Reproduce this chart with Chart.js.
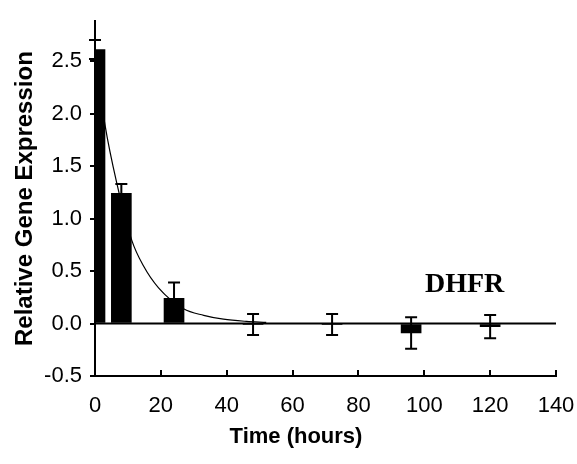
<!DOCTYPE html>
<html>
<head>
<meta charset="utf-8">
<script src="https://cdn.jsdelivr.net/npm/chart.js@4.4.1/dist/chart.umd.min.js"></script>
<style>
  body { margin: 0; background: #fff; }
  #wrap { width: 577px; height: 464px; }
</style>
</head>
<body>
<div id="wrap"><canvas id="dhfr-chart" width="577" height="464"></canvas></div>
<script>
// measured time points (hours) and relative expression
var hours = [0, 8, 24, 48, 72, 96, 120];
var expression = [2.61, 1.24, 0.24, -0.01, -0.01, -0.09, -0.03];
var errors = [0.09, 0.09, 0.15, 0.10, 0.10, 0.15, 0.11];

// decay fit line
var fitHours = [0, 3, 6.6, 11.2, 14.7, 19.3, 26.9, 33, 39, 46, 52];
var fitValues = [2.58, 1.9, 1.34, 0.79, 0.55, 0.34, 0.14, 0.078, 0.041, 0.02, 0.01];

// zero reference line
var zeroHours = [0, 140];
var zeroValues = [0, 0];

var xTicks = [0, 20, 40, 60, 80, 100, 120, 140];
var yTicks = [-0.5, 0.0, 0.5, 1.0, 1.5, 2.0, 2.5];

var geneName = "DHFR";

Chart.defaults.font.family = "'Liberation Sans', Arial, sans-serif";
Chart.defaults.color = "#000";

function pairs(xs, ys) {
    return xs.map(function (x, i) { return { x: x, y: ys[i] }; });
}

// error bars drawn on top of the bars
var errorBars = {
    id: "errorBars",
    afterDatasetsDraw: function (chart) {
        var ctx = chart.ctx;
        var xs = chart.scales.x, ys = chart.scales.y;
        ctx.save();
        ctx.strokeStyle = "#000";
        ctx.lineWidth = 2;
        hours.forEach(function (h, i) {
            var px = xs.getPixelForValue(h);
            var top = ys.getPixelForValue(expression[i] + errors[i]);
            var bot = ys.getPixelForValue(expression[i] - errors[i]);
            ctx.beginPath();
            ctx.moveTo(px, top); ctx.lineTo(px, bot);
            ctx.moveTo(px - 6, top); ctx.lineTo(px + 6, top);
            ctx.moveTo(px - 6, bot); ctx.lineTo(px + 6, bot);
            ctx.stroke();
        });
        ctx.restore();
    }
};

// inward x ticks, gene label and x title
var extras = {
    id: "extras",
    afterDraw: function (chart) {
        var ctx = chart.ctx;
        var xs = chart.scales.x;
        var area = chart.chartArea;
        ctx.save();
        ctx.strokeStyle = "#000";
        ctx.lineWidth = 2;
        ctx.beginPath();
        xTicks.forEach(function (t) {
            if (t === 0) return;
            var px = Math.round(xs.getPixelForValue(t));
            ctx.moveTo(px, area.bottom);
            ctx.lineTo(px, area.bottom - 6);
        });
        ctx.stroke();

        ctx.fillStyle = "#000";
        ctx.font = "bold 28px 'Liberation Serif', 'Times New Roman', serif";
        ctx.textAlign = "left";
        ctx.textBaseline = "alphabetic";
        ctx.fillText(geneName, 425, 292);

        ctx.font = "bold 22px 'Liberation Sans', Arial, sans-serif";
        ctx.textAlign = "center";
        ctx.textBaseline = "middle";
        ctx.fillText("Time (hours)", 296, 437);
        ctx.restore();
    }
};

new Chart(document.getElementById("dhfr-chart"), {
    type: "bar",
    data: {
        datasets: [
            {
                type: "line",
                data: pairs(zeroHours, zeroValues),
                borderColor: "#000",
                borderWidth: 2,
                pointRadius: 0,
                order: 1
            },
            {
                type: "line",
                data: pairs(fitHours, fitValues),
                borderColor: "#000",
                borderWidth: 1.2,
                pointRadius: 0,
                cubicInterpolationMode: "monotone",
                order: 2
            },
            {
                type: "bar",
                data: pairs(hours, expression),
                backgroundColor: "#000",
                borderWidth: 0,
                barThickness: 20,
                clip: 0,
                order: 3
            }
        ]
    },
    options: {
        responsive: false,
        animation: false,
        layout: { padding: { top: 13, right: 21, left: 0, bottom: 0 } },
        plugins: {
            legend: { display: false },
            tooltip: { enabled: false }
        },
        scales: {
            x: {
                type: "linear",
                min: 0,
                max: 140,
                offset: false,
                afterFit: function (scale) {
                    scale.height = 88;
                    scale.paddingLeft = 0;
                    scale.paddingRight = 0;
                },
                afterBuildTicks: function (scale) {
                    scale.ticks = xTicks.map(function (v) { return { value: v }; });
                },
                grid: { display: false, offset: false },
                border: { display: true, color: "#000", width: 2 },
                ticks: {
                    padding: 9,
                    font: { size: 22 },
                    maxRotation: 0,
                    callback: function (v) { return v; }
                }
            },
            y: {
                min: -0.5,
                max: 2.88,
                afterFit: function (scale) { scale.width = 95; },
                afterBuildTicks: function (scale) {
                    scale.ticks = yTicks.map(function (v) { return { value: v }; });
                },
                grid: {
                    drawOnChartArea: false,
                    drawTicks: true,
                    tickLength: 5,
                    color: "#000",
                    lineWidth: 2
                },
                border: { display: true, color: "#000", width: 2 },
                ticks: {
                    padding: 8,
                    font: { size: 22 },
                    callback: function (v) { return Number(v).toFixed(1); }
                },
                title: {
                    display: true,
                    text: "Relative Gene Expression",
                    font: { size: 24, weight: "bold" },
                    padding: { top: 11, bottom: 0 }
                }
            }
        }
    },
    plugins: [errorBars, extras]
});
</script>
</body>
</html>
